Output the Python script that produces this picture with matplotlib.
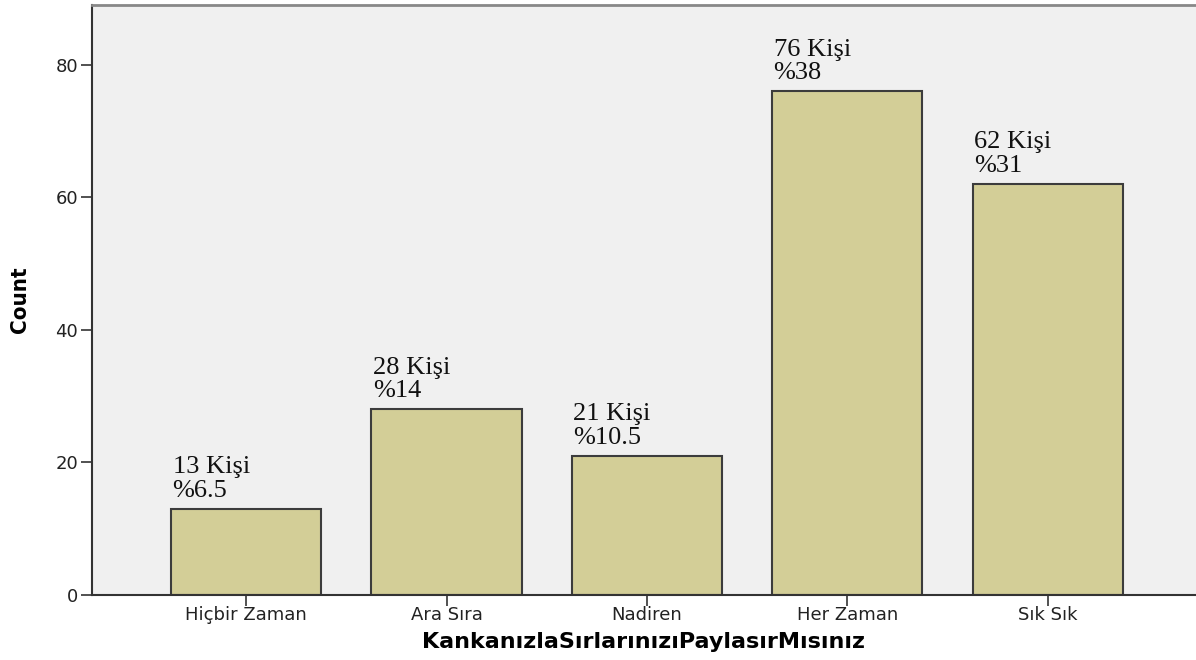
import matplotlib
matplotlib.use("Agg")
import matplotlib.pyplot as plt

# data
categories = ["Hiçbir Zaman", "Ara Sıra", "Nadiren", "Her Zaman", "Sık Sık"]
counts = [13, 28, 21, 76, 62]
percents = ["6.5", "14", "10.5", "38", "31"]
yticks = [0, 20, 40, 60, 80]

bar_color = "#d3ce97"
edge_color = "#3c3c3c"
bg_color = "#f0f0f0"

fig = plt.figure(figsize=(11.96, 6.6), dpi=100)
ax = fig.add_axes([0.0769, 0.0985, 0.9231, 0.8939])
ax.set_facecolor(bg_color)

x = list(range(len(categories)))
width = 0.75
ax.bar(x, counts, width=width, color=bar_color, edgecolor=edge_color, linewidth=1.5, zorder=2)

# "n Kişi / %p" labels above each bar, left aligned with the bar
for xi, c, p in zip(x, counts, percents):
    ax.annotate(f"{c} Kişi\n%{p}", xy=(xi - width / 2, c), xytext=(1, 5),
                textcoords="offset points", ha="left", va="bottom",
                fontsize=19, family="Liberation Serif", color="#111111",
                linespacing=1.1)

ax.set_xlim(-0.77, 4.74)
ax.set_ylim(0, 89)
ax.set_yticks(yticks)
ax.set_xticks(x)
ax.set_xticklabels(categories, fontsize=13, family="DejaVu Sans", color="#222222")
ax.set_yticklabels([str(t) for t in yticks], fontsize=13, family="DejaVu Sans", color="#222222")
ax.tick_params(axis="y", length=8, width=1.2, color="#333333", pad=2)
ax.tick_params(axis="x", length=8, width=1.2, color="#333333", pad=0)

ax.spines["right"].set_visible(False)
ax.spines["top"].set_color("#888888")
ax.spines["top"].set_linewidth(2)
ax.spines["left"].set_color("#333333")
ax.spines["left"].set_linewidth(1.5)
ax.spines["bottom"].set_color("#333333")
ax.spines["bottom"].set_linewidth(1.5)

ax.set_xlabel("KankanızlaSırlarınızıPaylasırMısınız", fontsize=16,
              fontweight="bold", family="DejaVu Sans", labelpad=6)
ax.set_ylabel("Count", fontsize=16, fontweight="bold", family="DejaVu Sans",
              fontstretch="condensed", labelpad=18)

fig.savefig("out.png", dpi=100, facecolor="white")
